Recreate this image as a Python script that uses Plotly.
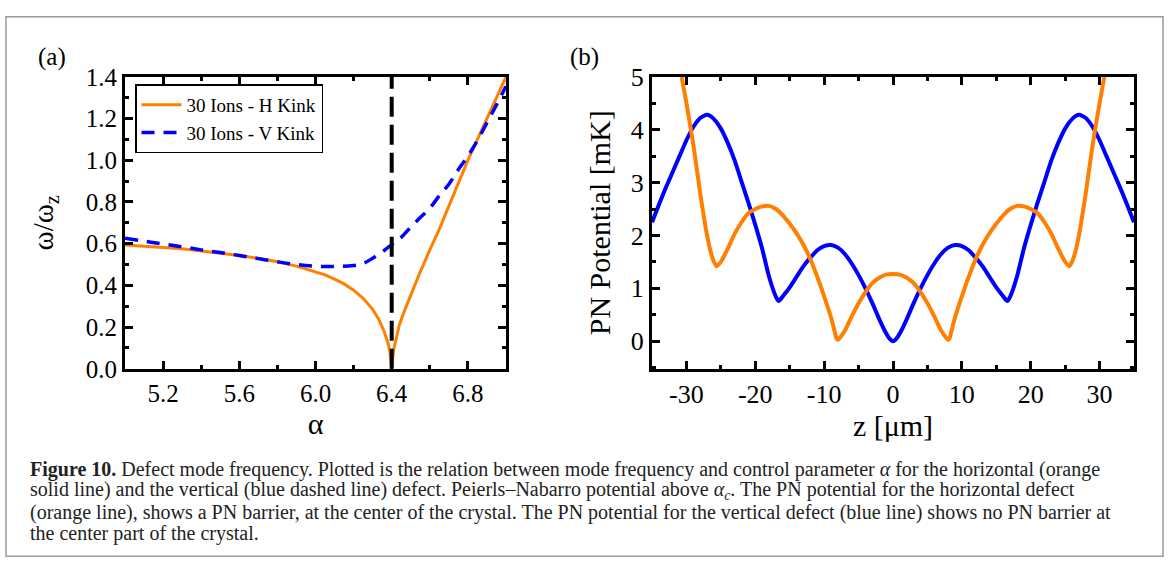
import plotly.graph_objects as go

W, H = 1168, 573

# ---------------- Panel (a) data ----------------
alpha_h = [5.0, 5.1, 5.2, 5.3, 5.4, 5.5, 5.6, 5.7, 5.8, 5.9, 6.0, 6.05, 6.1, 6.15, 6.2, 6.25,
           6.3, 6.33, 6.36, 6.38, 6.39, 6.4, 6.41, 6.42, 6.44, 6.47, 6.5, 6.55, 6.6, 6.65,
           6.7, 6.75, 6.8, 6.85, 6.9, 6.95, 7.0]
omega_h = [0.593, 0.588, 0.582, 0.575, 0.565, 0.555, 0.543, 0.530, 0.513, 0.492, 0.466, 0.450,
           0.430, 0.407, 0.377, 0.338, 0.285, 0.240, 0.180, 0.125, 0.085, 0.0, 0.090, 0.130,
           0.210, 0.285, 0.355, 0.465, 0.570, 0.670, 0.780, 0.890, 1.000, 1.100, 1.200, 1.300, 1.400]

alpha_v = [5.0, 5.1, 5.2, 5.3, 5.4, 5.5, 5.6, 5.7, 5.8, 5.9, 6.0, 6.1, 6.2, 6.25, 6.3, 6.35,
           6.4, 6.45, 6.5, 6.55, 6.6, 6.65, 6.7, 6.75, 6.8, 6.85, 6.9, 6.95, 7.0]
omega_v = [0.626, 0.612, 0.598, 0.585, 0.570, 0.557, 0.543, 0.528, 0.513, 0.500, 0.492, 0.490,
           0.495, 0.505, 0.530, 0.560, 0.595, 0.630, 0.680, 0.725, 0.770, 0.830, 0.885, 0.955,
           1.020, 1.095, 1.180, 1.265, 1.355]

alpha_c = 6.4
alpha_c_line = [0.0, 1.4]

# ---------------- Panel (b) data ----------------
z_v = [-35, -34, -33, -32, -31, -30, -29, -28, -27, -26, -25, -24, -23, -22, -21, -20, -19, -18,
       -17, -16.6, -16, -15, -14, -13, -12, -11, -10, -9, -8, -7, -6, -5, -4, -3, -2, -1, -0.5, 0,
       0.5, 1, 2, 3, 4, 5, 6, 7, 8, 9, 10, 11, 12, 13, 14, 15, 16, 16.6, 17, 18, 19, 20, 21, 22,
       23, 24, 25, 26, 27, 28, 29, 30, 31, 32, 33, 34, 35]
pn_v = [2.25, 2.58, 2.90, 3.20, 3.50, 3.80, 4.05, 4.22, 4.28, 4.20, 4.02, 3.75, 3.42, 3.02, 2.62,
        2.20, 1.75, 1.22, 0.84, 0.76, 0.85, 1.02, 1.22, 1.42, 1.58, 1.72, 1.80, 1.82, 1.77, 1.65,
        1.47, 1.25, 1.00, 0.72, 0.42, 0.15, 0.05, 0.0,
        0.05, 0.15, 0.42, 0.72, 1.00, 1.25, 1.47, 1.65, 1.77, 1.82, 1.80, 1.72, 1.58, 1.42, 1.22,
        1.02, 0.85, 0.76, 0.84, 1.22, 1.75, 2.20, 2.62, 3.02, 3.42, 3.75, 4.02, 4.20, 4.28, 4.22,
        4.05, 3.80, 3.50, 3.20, 2.90, 2.58, 2.25]

z_h = [-32, -31, -30, -29, -28, -27, -26.5, -26, -25.6, -25, -24, -23, -22, -21, -20, -19, -18,
       -17, -16, -15, -14, -13, -12, -11, -10, -9, -8.5, -8.2, -8, -7, -6, -5, -4, -3, -2, -1, 0,
       1, 2, 3, 4, 5, 6, 7, 8, 8.2, 8.5, 9, 10, 11, 12, 13, 14, 15, 16, 17, 18, 19, 20, 21, 22,
       23, 24, 25, 25.6, 26, 26.5, 27, 28, 29, 30, 31, 32]
pn_h = [6.00, 5.22, 4.50, 3.72, 2.80, 2.00, 1.70, 1.50, 1.42, 1.50, 1.75, 2.03, 2.25, 2.42, 2.50,
        2.55, 2.56, 2.50, 2.38, 2.22, 2.04, 1.82, 1.55, 1.22, 0.85, 0.45, 0.20, 0.05, 0.03, 0.20,
        0.47, 0.72, 0.93, 1.10, 1.20, 1.26, 1.27,
        1.26, 1.20, 1.10, 0.93, 0.72, 0.47, 0.20, 0.03, 0.05, 0.20, 0.45, 0.85, 1.22, 1.55, 1.82,
        2.04, 2.22, 2.38, 2.50, 2.56, 2.55, 2.50, 2.42, 2.25, 2.03, 1.75, 1.50, 1.42, 1.50, 1.70,
        2.00, 2.80, 3.72, 4.50, 5.22, 6.00]

zb_tickvals = [-30, -20, -10, 0, 10, 20, 30]
zb_ticktext = ["-30", "-20", "-10", "0", "10", "20", "30"]

caption_lines = [
    "<b>Figure 10.</b> Defect mode frequency. Plotted is the relation between mode frequency and control parameter <i>α</i> for the horizontal (orange",
    "solid line) and the vertical (blue dashed line) defect. Peierls–Nabarro potential above <i>α<sub>c</sub></i>. The PN potential for the horizontal defect",
    "(orange line), shows a PN barrier, at the center of the crystal. The PN potential for the vertical defect (blue line) shows no PN barrier at",
    "the center part of the crystal.",
]

ORANGE = "#FF7F00"
BLUE = "#0000FF"
FONT = "Liberation Serif"


def px(x):
    return x / W


def py(y):
    return 1 - y / H


fig = go.Figure()

fig.add_trace(go.Scatter(x=alpha_h, y=omega_h, mode="lines", name="30 Ions - H Kink",
                         line=dict(color=ORANGE, width=3), xaxis="x", yaxis="y"))
fig.add_trace(go.Scatter(x=alpha_v, y=omega_v, mode="lines", name="30 Ions - V Kink",
                         line=dict(color=BLUE, width=3.5, dash="13px,9px", shape="spline"),
                         xaxis="x", yaxis="y"))
fig.add_trace(go.Scatter(x=[alpha_c, alpha_c], y=alpha_c_line, mode="lines", showlegend=False,
                         line=dict(color="black", width=4, dash="20px,8px"), xaxis="x", yaxis="y"))

fig.add_trace(go.Scatter(x=z_v, y=pn_v, mode="lines", showlegend=False,
                         line=dict(color=BLUE, width=4, shape="spline", smoothing=0.6),
                         xaxis="x2", yaxis="y2"))
fig.add_trace(go.Scatter(x=z_h, y=pn_h, mode="lines", showlegend=False,
                         line=dict(color=ORANGE, width=4, shape="spline", smoothing=0.6),
                         xaxis="x2", yaxis="y2"))

axis_common = dict(showline=True, linecolor="black", linewidth=3, mirror="allticks",
                   ticks="inside", ticklen=8, tickwidth=3, tickcolor="black",
                   showgrid=False, zeroline=False)

ya_dom = [py(373), py(66)]

fig.update_layout(
    width=W, height=H,
    margin=dict(l=0, r=0, t=0, b=0),
    paper_bgcolor="white", plot_bgcolor="white",
    font=dict(family=FONT, color="black"),
    xaxis=dict(domain=[px(125), px(506)], range=[5.0, 7.0], tick0=5.2, dtick=0.4,
               tickformat=".1f", tickfont=dict(size=25),
               minor=dict(ticks="inside", ticklen=4, tickwidth=3, dtick=0.2, tick0=5.0, tickcolor="black"),
               title=dict(text="α", font=dict(size=30), standoff=6),
               anchor="y", **axis_common),
    yaxis=dict(domain=ya_dom, range=[0, 1.4], dtick=0.2, tickformat=".1f",
               tickfont=dict(size=25),
               minor=dict(ticks="inside", ticklen=4, tickwidth=3, dtick=0.1, tickcolor="black"),
               title=dict(text="ω/ω<sub>z</sub>", font=dict(size=29), standoff=24),
               anchor="x", **axis_common),
    xaxis2=dict(domain=[px(652), px(1134)], range=[-35, 35], tickvals=zb_tickvals,
                ticktext=zb_ticktext, tickfont=dict(size=26),
                minor=dict(ticks="inside", ticklen=4, tickwidth=3, dtick=5, tick0=0, tickcolor="black"),
                title=dict(text="z [μm]", font=dict(size=30), standoff=0),
                anchor="y2", **axis_common),
    yaxis2=dict(domain=ya_dom, range=[-0.52, 5], dtick=1, tick0=0, tickfont=dict(size=26),
                minor=dict(ticks="inside", ticklen=4, tickwidth=3, dtick=0.5, tick0=0, tickcolor="black"),
                title=dict(text="PN Potential [mK]", font=dict(size=30), standoff=12),
                anchor="x2", **axis_common),
    legend=dict(x=px(135), y=py(74), xanchor="left", yanchor="top",
                bgcolor="white", bordercolor="black", borderwidth=1.5,
                font=dict(size=19, family=FONT), tracegroupgap=0, itemwidth=40),
    showlegend=True,
)

annotations = [
    dict(text="(a)", x=px(52), y=py(45), xref="paper", yref="paper", showarrow=False,
         font=dict(size=25, family=FONT), xanchor="center", yanchor="middle"),
    dict(text="(b)", x=px(584), y=py(45), xref="paper", yref="paper", showarrow=False,
         font=dict(size=25, family=FONT), xanchor="center", yanchor="middle"),
]
cap_y = [479, 501.5, 524, 546.5]
for line, yy in zip(caption_lines, cap_y):
    annotations.append(dict(text=line, x=px(28), y=py(yy), xref="paper", yref="paper",
                            showarrow=False, xanchor="left", yanchor="middle", align="left",
                            font=dict(size=20, family=FONT, color="#222")))
fig.update_layout(annotations=annotations)

fig.add_shape(type="rect", xref="paper", yref="paper", x0=px(6), x1=px(1163), y0=py(570), y1=py(3),
              line=dict(color="#9a9a9a", width=1.5), fillcolor="rgba(0,0,0,0)", layer="below")

fig.write_html("out.html")
